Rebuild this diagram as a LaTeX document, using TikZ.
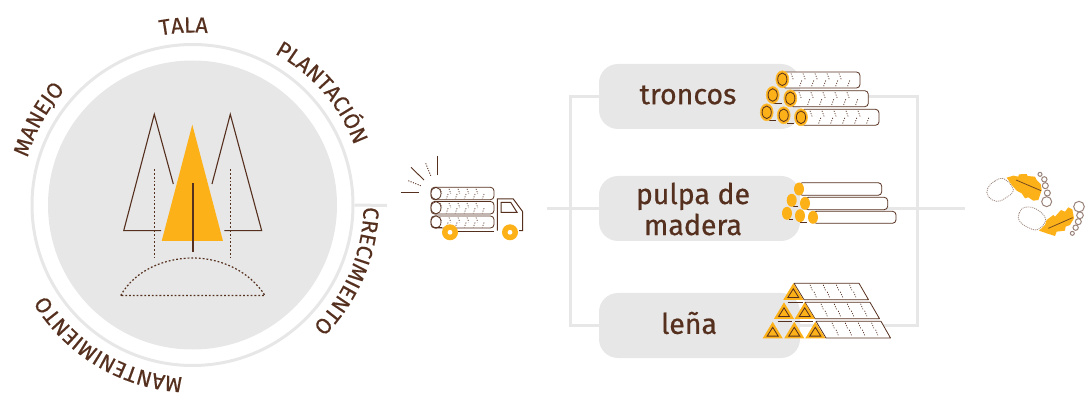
\documentclass[tikz,border=0pt]{standalone}
\usepackage{fontspec}
\setmainfont{Fira Sans}
\newfontfamily\lab{Fira Sans}[FakeBold=0.6]
\newfontfamily\labr{Fira Sans}[FakeBold=0.35]
\usetikzlibrary{decorations.text}
\definecolor{brn}{HTML}{56301F}
\definecolor{yel}{HTML}{FDB119}
\definecolor{gry}{HTML}{E7E7E7}
\definecolor{lbrn}{HTML}{9A8379}
\tikzset{
 conn/.style={draw=gry,line width=3pt},
 optbox/.style={fill=gry,rounded corners=19pt,minimum width=201pt,minimum height=65pt,inner sep=0pt},
 optlab/.style={text=brn,font=\lab\fontsize{28.5}{31}\selectfont,align=center,inner sep=0pt},
 ringtext/.style={decorate,decoration={text along path,text align=center,text={|\labr\fontsize{22}{22}\selectfont\color{brn}|#1}}},
 tline/.style={draw=brn,line width=1.1pt},
 dots/.style={draw=brn,line width=1.2pt,dash pattern=on 1.8pt off 2pt},
 thin log/.style={draw=brn,line width=.8pt,fill=white},
 stip/.style={draw=brn,line width=.7pt,dash pattern=on 1.1pt off 1.4pt},
 foot/.style={draw=lbrn,line width=.8pt,dash pattern=on 1pt off 1pt},
 toe/.style={draw=lbrn,line width=1pt,fill=white},
}
% log: x0 x1 ytop ybottom step
\newcommand{\rlog}[5]{%
 \path[thin log,rounded corners=3.5pt] (#1,#3) -- (#2,#3) -- (#2,#4) -- (#1,#4) -- cycle;
 \ifx&#5&\else
 \pgfmathsetmacro{\dd}{(#4-#3)/2}
 \pgfmathsetmacro{\xb}{#1+9}\pgfmathsetmacro{\xc}{#1+9+#5}\pgfmathsetmacro{\xe}{#2-12}
 \foreach \xx in {\xb,\xc,...,\xe}{
  \draw[stip] (\xx,#3+1.5) -- ++(.3*\dd,.8*\dd);
  \draw[stip] (\xx+.9*#5,#3+\dd+.5) -- ++(-.3*\dd,.8*\dd);
 }\fi}
\newcommand{\yend}[2]{\path[fill=yel,draw=yel!85!white,line width=.6pt] (#1,#2) ellipse[x radius=6.5pt,y radius=8.5pt];
 \draw[brn,line width=.8pt] (#1,#2) ellipse[x radius=4.6pt,y radius=6.3pt];}
\newcommand{\pend}[2]{\fill[yel] (#1,#2) ellipse[x radius=5pt,y radius=6.5pt];}
\newcommand{\tri}[2]{\path[fill=yel] (#1,#2) -- ++(-10,16.5) -- ++(20,0) -- cycle;
 \draw[brn,line width=.8pt] (#1,#2+5.5) -- ++(-5.5,8.8) -- ++(11,0) -- cycle;}
\newcommand{\trap}[5]{\draw[thin log,line join=round] (#1,#3) -- (#2,#3) -- (#2+9.5,#4) -- (#1+10,#4) -- cycle;
 \foreach \k in {0,1,2,3}{
  \draw[stip] (#1+16+\k*13.2,#3+1.5) -- ++(2.3,5.5);
  \draw[stip] (#1+20+\k*13.2,#3+8.5) -- ++(2.3,5.5);}}
\begin{document}
\begin{tikzpicture}[x=1pt,y=1pt]
\useasboundingbox (0,0) rectangle (1085,394);
\coordinate (cc) at (193,189);
\path[ringtext=TALA] (cc)+(113:172.5) arc[start angle=113,end angle=73,radius=172.5];
\path[ringtext=PLANTACIÓN] (cc)+(74:172) arc[start angle=74,end angle=8,radius=172];
\path[ringtext=CRECIMIENTO] (cc)+(22:170.5) arc[start angle=22,end angle=-68,radius=170.5];
\path[ringtext=MANTENIMIENTO] (cc)+(-73:172.5) arc[start angle=-73,end angle=-169,radius=172.5];
\path[ringtext=MANEJO] (cc)+(184:172) arc[start angle=184,end angle=118,radius=172];
\begin{scope}[yshift=394pt,y=-1pt]
 % ring and disc
 \node[circle,draw=gry,line width=3pt,minimum size=321pt,inner sep=0pt] (ring) at (192.5,205) {};
 \node[circle,fill=gry,minimum size=289pt,inner sep=0pt] (disc) at (192.5,205) {};
 % junctions
 \coordinate (tickend) at (387,205.5);
 \coordinate (truckR) at (547,208.5);
 \coordinate (busL) at (570,208.5);
 \coordinate (busR) at (917,208.5);
 \coordinate (out) at (965,208.5);
 \node[optbox] (bt) at (699.5,96.5) {};
 \node[optbox] (bp) at (699.5,208.5) {};
 \node[optbox] (bl) at (699.5,325.5) {};
 \draw[conn] (ring.east) -- (tickend);
 \draw[conn] (truckR) -- (bp.west);
 \draw[conn] (bp.east) -- (out);
 \draw[conn] (bt.west) -| (busL) |- (bl.west);
 \draw[conn] (bt.east) -| (busR) |- (bl.east);
 \node[optlab] (tt) at (688,95) {troncos};
 \node[optlab] (tp) at (693,209) {pulpa de\\madera};
 \node[optlab] (tl) at (689,323) {leña};
 % trees
 \draw[tline,line join=miter] (173.3,184) -- (154.3,114.3) -- (123.7,230.7) -- (161,230.7);
 \draw[tline,line join=miter] (212,184) -- (230.3,114.3) -- (261.7,230.7) -- (224.3,230.7);
 \fill[yel] (192.3,124.7) -- (161.7,241) -- (223,241) -- cycle;
 \draw[brn,line width=1.6pt] (192.7,183) -- (192.7,251.7);
 \draw[dots] (154.7,169.3) -- (154.7,258);
 \draw[dots] (230.3,169.3) -- (230.3,258);
 \draw[dots] (120.7,295.5) .. controls (135,270) and (165,258) .. (192.7,258) .. controls (222,258) and (250,272) .. (265,295.5) -- cycle;
 % truck
 \draw[tline,line width=.9pt] (437.3,156) -- (437.3,174.7);
 \draw[stip,line width=.9pt] (425.7,163.3) -- (430.7,175.7);
 \draw[tline,line width=.9pt] (411,167.3) -- (424,180);
 \draw[stip,line width=.9pt] (408.3,180.7) -- (420.7,185.7);
 \draw[tline,line width=.9pt] (401,192.3) -- (419,192.3);
 \foreach \ya/\yb in {187.3/199.7,201.5/214,216/228}{
  \rlog{431}{494}{\ya}{\yb}{9}
  \draw[brn,line width=.8pt,fill=white] (436,{(\ya+\yb)/2}) ellipse[x radius=5pt,y radius=6.2pt];
 }
 \draw[brn,line width=1pt] (497.3,230.7) -- (497.3,199) -- (513.3,199) -- (522.7,211.7) -- (522.7,230.7) -- (519,230.7);
 \draw[brn,line width=1pt] (501,202.3) -- (510.7,202.3) -- (517,212.3) -- (501,212.3) -- cycle;
 \draw[brn,line width=1pt] (458,231.3) -- (494,231.3);
 \draw[brn,line width=1pt] (433,227.8) -- (442,227.8);
 \foreach \wx in {450,510}{
  \fill[yel] (\wx,232.3) circle[radius=8pt];
  \fill[white] (\wx,232.3) circle[radius=2.4pt];
 }
 % troncos icon
 \rlog{782}{860}{72}{88}{12}
 \rlog{790}{868.3}{90.7}{106.7}{12}
 \rlog{801}{879}{109.3}{125.3}{12}
 \draw[brn,line width=.8pt] (773,103.3) -- (781.7,103.3);
 \draw[brn,line width=.8pt] (769.3,120.3) -- (776,120.3);
 \draw[brn,line width=.8pt] (786.7,123) -- (794,123);
 \yend{782.3}{79.3}\yend{772.7}{95}\yend{790.3}{98.3}\yend{766.7}{112.3}\yend{783.7}{115.3}\yend{801}{117.3}
 % pulpa icon
 \rlog{799}{881.7}{182.7}{195.3}{}
 \rlog{805}{887.7}{197.3}{209.7}{}
 \rlog{813}{896}{211.3}{223.3}{}
 \draw[brn,line width=.8pt] (793.3,206) -- (798.3,206);
 \draw[brn,line width=.8pt] (789.3,219.3) -- (793.3,219.3);
 \draw[brn,line width=.8pt] (800,222) -- (806.7,222);
 \pend{799}{189}\pend{791.7}{200.3}\pend{805}{203.3}\pend{787}{213.3}\pend{800}{215.7}\pend{813}{217.3}
 % lena icon
 \trap{794}{859}{283.3}{299.7}{}
 \trap{805}{870}{302.3}{318.7}{}
 \trap{816}{881}{321.3}{338}{}
 \draw[brn,line width=.8pt] (787.7,302.3) -- (803.3,302.3);
 \draw[brn,line width=.8pt] (777.7,321.3) -- (791.7,321.3);
 \draw[brn,line width=.8pt] (795,321.3) -- (813.3,321.3);
 \tri{793.3}{283.3}\tri{784}{302.3}\tri{804.7}{302.3}\tri{772.7}{321.8}\tri{794.3}{321.8}\tri{815.3}{321.8}
 % footprints
 \begin{scope}[shift={(975,160)},x=.3333pt,y=-.3333pt]
  \draw[foot] plot[smooth cycle,tension=.7] coordinates {(88,57) (60,63) (38,85) (40,110) (65,124) (90,115) (115,90)};
  \draw[foot] plot[smooth cycle,tension=.7] coordinates {(150,142) (132,160) (135,185) (165,205) (190,208) (212,178) (185,148)};
  \fill[yel,line join=round] (95,53) -- (115,47) -- (130,50) -- (132,43) -- (155,42) -- (158,48) -- (180,50) -- (185,60) -- (197,72) -- (200,90) -- (195,105) -- (190,120) -- (175,122) -- (160,112) -- (150,115) -- (140,100) -- (125,92) -- (110,75) -- cycle;
  \draw[brn!80!yel,line width=.8pt] (123,60) -- (198,92);
  \fill[yel,line join=round] (192,212) -- (210,195) -- (215,180) -- (235,165) -- (240,170) -- (258,150) -- (270,155) -- (280,142) -- (292,148) -- (297,175) -- (285,195) -- (272,200) -- (270,212) -- (245,215) -- (240,228) -- (215,220) -- cycle;
  \draw[brn!80!yel,line width=.8pt] (220,205) -- (293,173);
  \foreach \cx/\cy/\r in {195/43/6,208/58/8,211/77/9,217/99/9,215/125/15,312/140/16,315/166/10,310/185/9,302/203/8,292/220/6}{
   \draw[toe] (\cx,\cy) circle[radius=\r*.3333pt];
  }
 \end{scope}
\end{scope}
\end{tikzpicture}
\end{document}
